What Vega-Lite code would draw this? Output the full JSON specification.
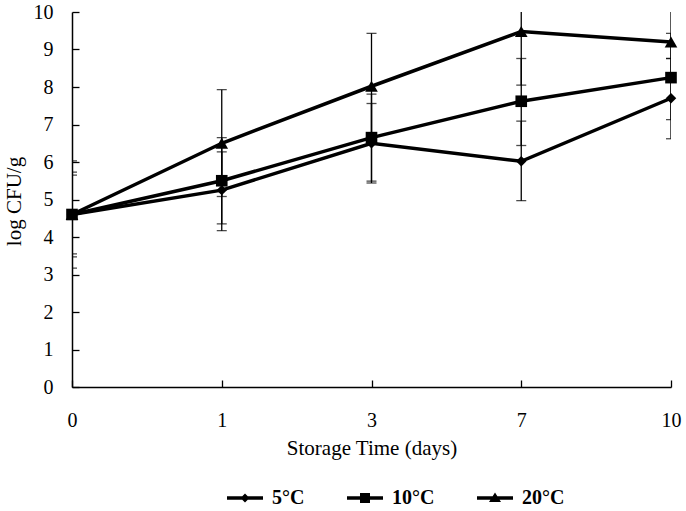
{
  "$schema": "https://vega.github.io/schema/vega-lite/v6.json",
  "background": "white",
  "autosize": {"type": "none"},
  "padding": {"left": 72, "top": 12, "right": 15, "bottom": 124},
  "width": 599,
  "height": 375,
  "config": {
    "view": {"stroke": null},
    "font": "Liberation Serif",
    "axis": {
      "grid": false,
      "domainColor": "black",
      "domainWidth": 1.5,
      "tickColor": "black",
      "tickWidth": 1.3,
      "labelColor": "black",
      "labelFont": "Liberation Serif",
      "labelFontSize": 20,
      "titleColor": "black",
      "titleFont": "Liberation Serif",
      "titleFontSize": 21,
      "titleFontWeight": "normal"
    }
  },
  "data": {
    "values": [
      {"series": "5°C", "day": "0", "value": 4.6, "lo": 3.55, "hi": 5.65},
      {"series": "5°C", "day": "1", "value": 5.25, "lo": 4.17, "hi": 6.27},
      {"series": "5°C", "day": "3", "value": 6.5, "lo": 5.44, "hi": 7.56},
      {"series": "5°C", "day": "7", "value": 6.02, "lo": 4.97, "hi": 7.09},
      {"series": "5°C", "day": "10", "value": 7.7, "lo": 6.62, "hi": 8.76},
      {"series": "10°C", "day": "0", "value": 4.6, "lo": 3.47, "hi": 5.73},
      {"series": "10°C", "day": "1", "value": 5.5, "lo": 4.35, "hi": 6.65},
      {"series": "10°C", "day": "3", "value": 6.65, "lo": 5.49, "hi": 7.81},
      {"series": "10°C", "day": "7", "value": 7.62, "lo": 6.44, "hi": 8.76},
      {"series": "10°C", "day": "10", "value": 8.25, "lo": 7.13, "hi": 9.43},
      {"series": "20°C", "day": "0", "value": 4.6, "lo": 3.17, "hi": 6.03},
      {"series": "20°C", "day": "1", "value": 6.5, "lo": 5.08, "hi": 7.93},
      {"series": "20°C", "day": "3", "value": 8.02, "lo": 6.6, "hi": 9.43},
      {"series": "20°C", "day": "7", "value": 9.48, "lo": 8.05, "hi": 10.9},
      {"series": "20°C", "day": "10", "value": 9.2, "lo": 8.76, "hi": 10.6}
    ]
  },
  "encoding": {
    "x": {
      "field": "day",
      "type": "ordinal",
      "sort": ["0", "1", "3", "7", "10"],
      "scale": {"type": "point", "padding": 0},
      "axis": {
        "labelAngle": 0,
        "tickSize": -7,
        "labelPadding": 30,
        "title": "Storage Time (days)",
        "titleY": 67,
        "titleBaseline": "alphabetic"
      }
    },
    "y": {
      "field": "value",
      "type": "quantitative",
      "scale": {"domain": [0, 10], "nice": false},
      "axis": {
        "values": [0, 1, 2, 3, 4, 5, 6, 7, 8, 9, 10],
        "tickCount": 11,
        "labelOverlap": false,
        "labelSeparation": 0,
        "labelBound": false,
        "tickSize": -7,
        "labelPadding": 26,
        "title": "log CFU/g",
        "titleX": -52,
        "titleY": 189,
        "titleAngle": -90,
        "titleAlign": "center",
        "titleBaseline": "alphabetic"
      }
    }
  },
  "layer": [
    {
      "mark": {"type": "rule", "color": "black", "strokeWidth": 1.3, "clip": true},
      "encoding": {
        "y": {"field": "lo", "type": "quantitative"},
        "y2": {"field": "hi"}
      }
    },
    {
      "mark": {"type": "tick", "orient": "horizontal", "color": "black", "size": 10, "thickness": 1.3, "clip": true},
      "encoding": {"y": {"field": "lo", "type": "quantitative"}}
    },
    {
      "mark": {"type": "tick", "orient": "horizontal", "color": "black", "size": 10, "thickness": 1.3, "clip": true},
      "encoding": {"y": {"field": "hi", "type": "quantitative"}}
    },
    {
      "mark": {"type": "line", "color": "black", "strokeWidth": 3.5},
      "encoding": {
        "detail": {"field": "series"}
      }
    },
    {
      "mark": {"type": "point", "filled": true, "color": "black", "opacity": 1},
      "encoding": {
        "shape": {
          "field": "series",
          "scale": {"domain": ["5°C", "10°C", "20°C"], "range": ["diamond", "square", "triangle-up"]},
          "legend": null
        },
        "size": {
          "field": "series",
          "type": "nominal",
          "scale": {"domain": ["5°C", "10°C", "20°C"], "range": [110, 160, 200]},
          "legend": null
        }
      }
    },
    {
      "mark": {"type": "point", "filled": true, "color": "black", "opacity": 0, "size": 100},
      "encoding": {
        "shape": {
          "field": "series",
          "scale": {
            "domain": ["5°C", "10°C", "20°C"],
            "range": [
              "M-3.6,-0.35L3.6,-0.35L3.6,0.35L-3.6,0.35Z M0,-0.9L0.9,0L0,0.9L-0.9,0Z",
              "M-3.6,-0.35L3.6,-0.35L3.6,0.35L-3.6,0.35Z M-1,-1L1,-1L1,1L-1,1Z",
              "M-3.6,-0.35L3.6,-0.35L3.6,0.35L-3.6,0.35Z M0,-1.1L1.2,0.8L-1.2,0.8Z"
            ]
          },
          "legend": {
            "title": null,
            "orient": "none",
            "direction": "horizontal",
            "legendX": 163,
            "legendY": 476,
            "symbolSize": 100,
            "symbolOpacity": 1,
            "symbolFillColor": "black",
            "symbolStrokeWidth": 0,
            "labelOffset": 17,
            "columnPadding": 42,
            "labelFont": "Liberation Serif",
            "labelFontSize": 20,
            "labelFontWeight": "bold",
            "labelColor": "black"
          }
        }
      }
    }
  ],
  "resolve": {"scale": {"shape": "independent"}, "legend": {"shape": "independent"}}
}
